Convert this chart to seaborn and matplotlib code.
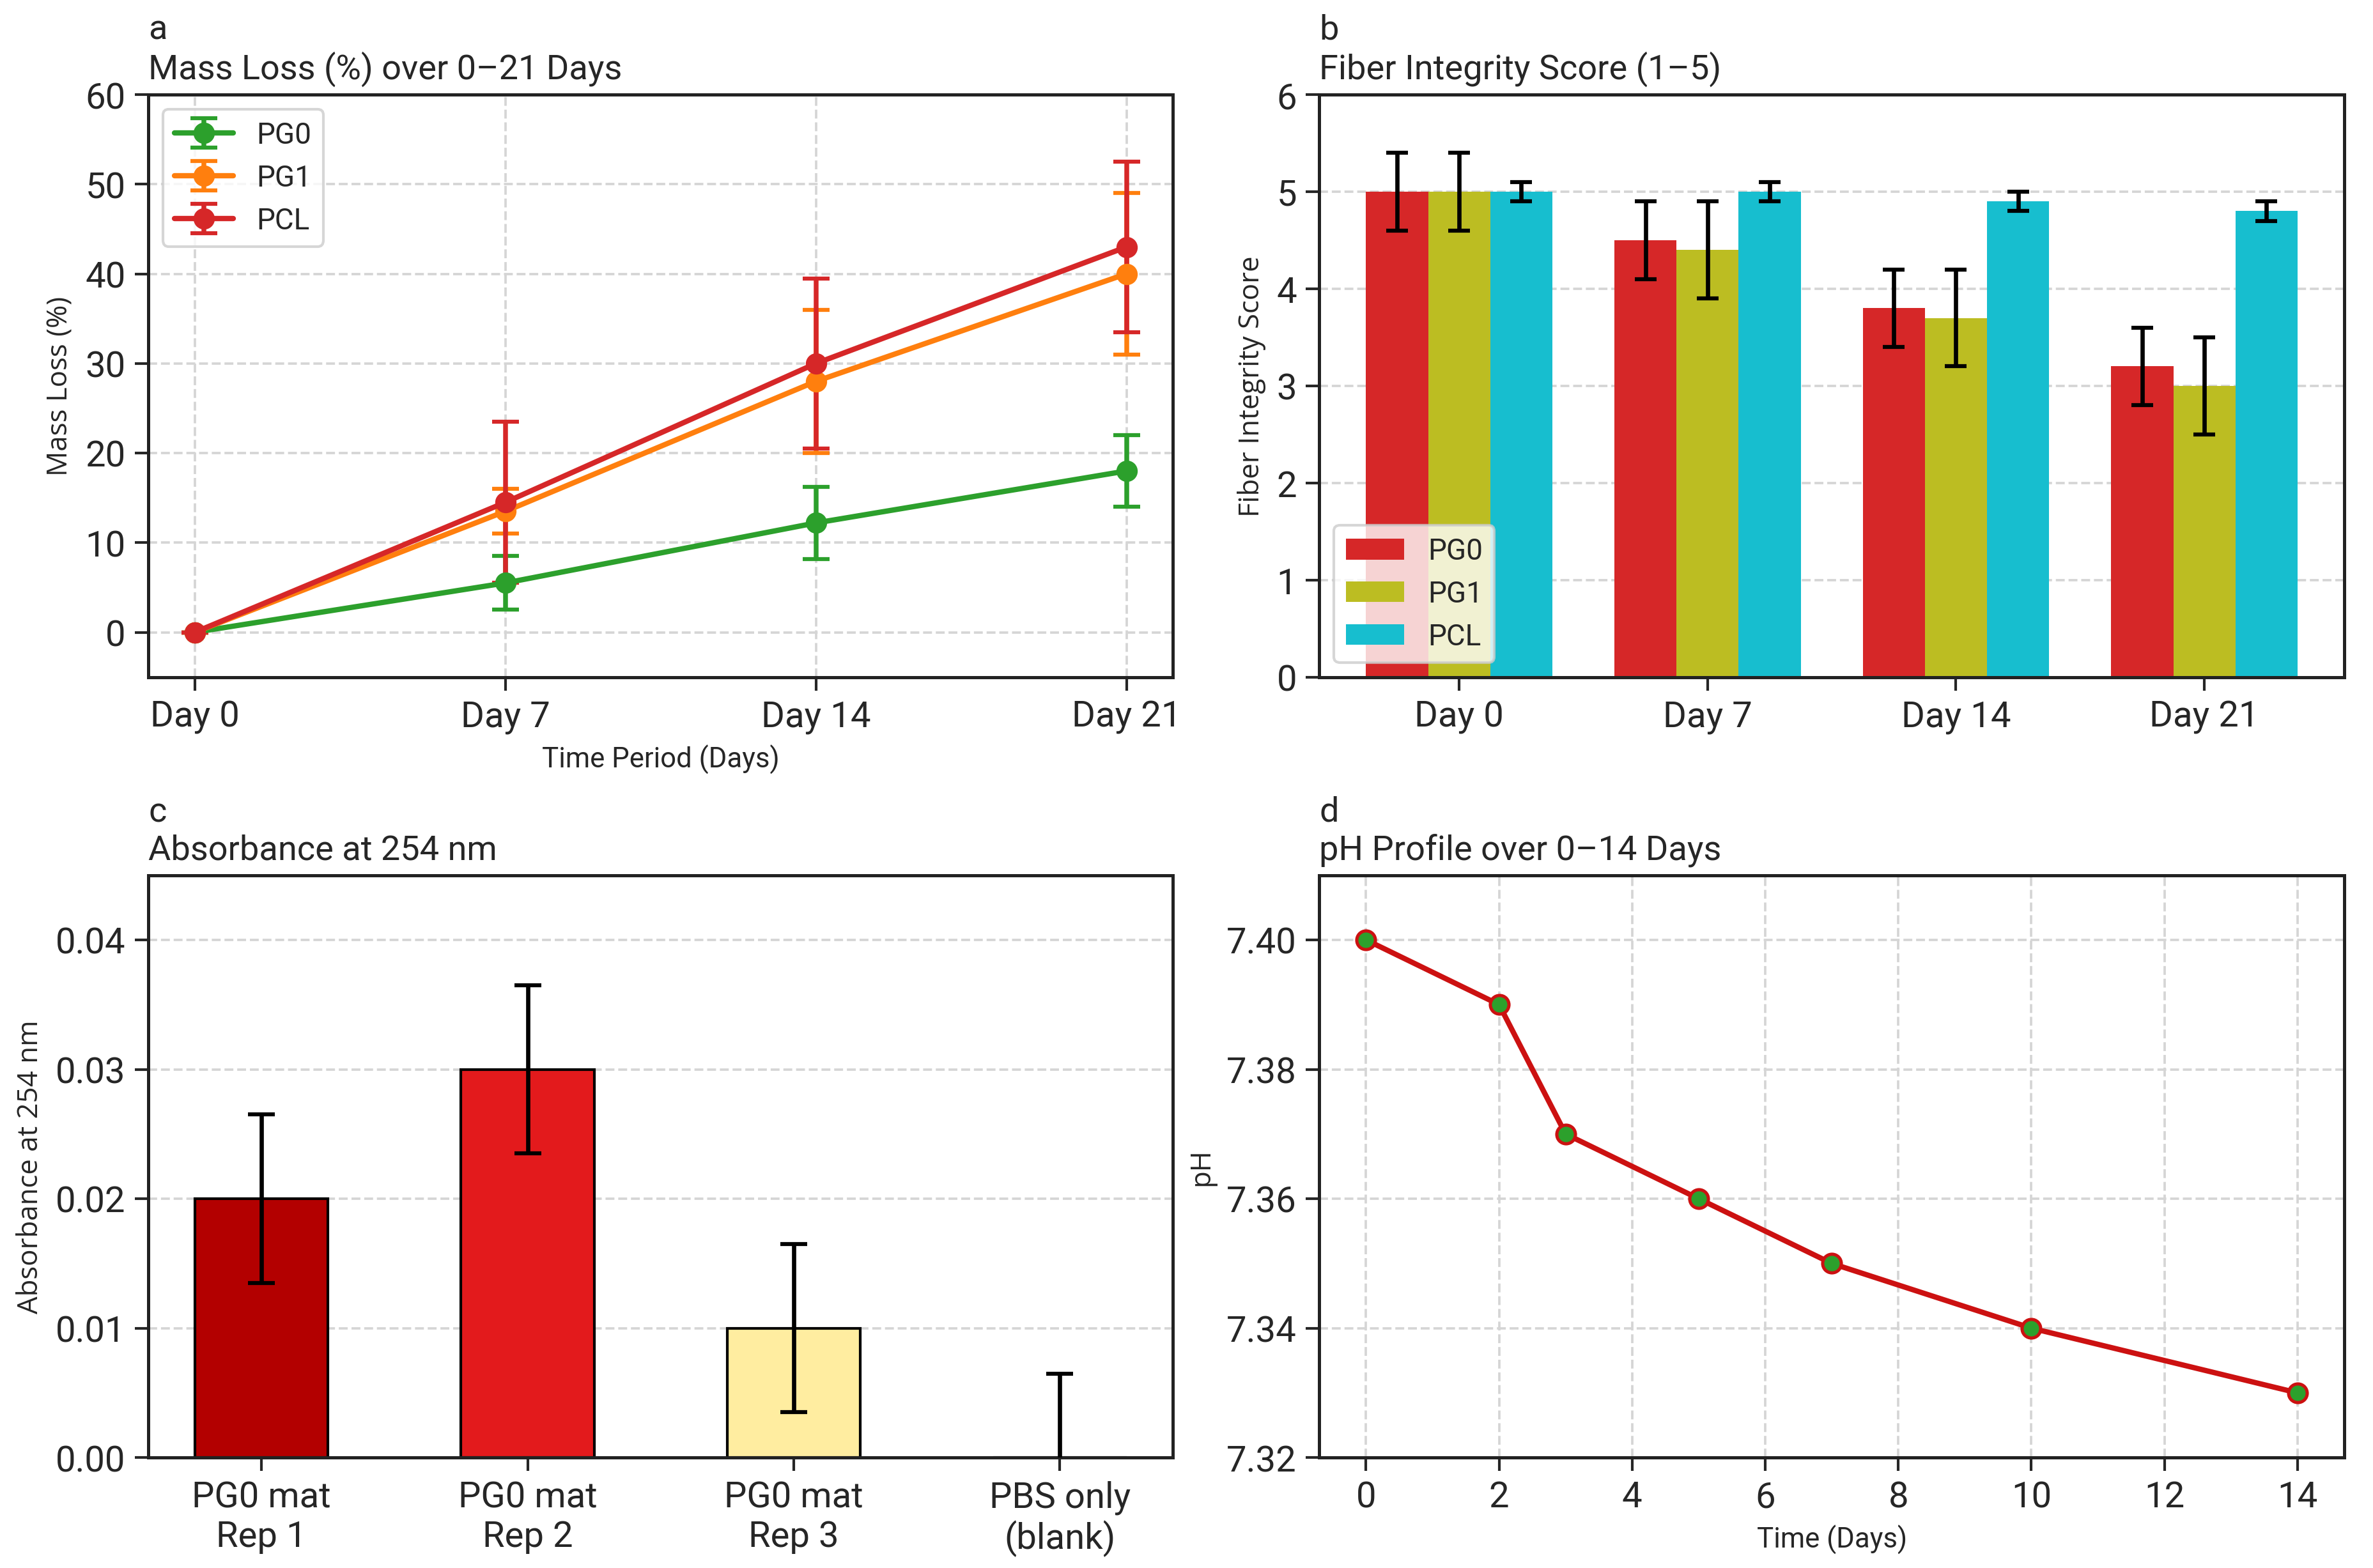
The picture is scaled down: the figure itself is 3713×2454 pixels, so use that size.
import numpy as np
import matplotlib
matplotlib.use("Agg")
import matplotlib.pyplot as plt
import seaborn as sns
import pandas as pd

# ---- data ----
days = ["Day 0", "Day 7", "Day 14", "Day 21"]
groups = ["PG0", "PG1", "PCL"]

mass_pg0 = [0, 5.5, 12.2, 18.0]
mass_pg0_err = [0, 3.0, 4.0, 4.0]
mass_pg1 = [0, 13.5, 28.0, 40.0]
mass_pg1_err = [0, 2.5, 8.0, 9.0]
mass_pcl = [0, 14.5, 30.0, 43.0]
mass_pcl_err = [0, 9.0, 9.5, 9.5]

fiber_pg0 = [5.0, 4.5, 3.8, 3.2]
fiber_pg0_err = [0.4, 0.4, 0.4, 0.4]
fiber_pg1 = [5.0, 4.4, 3.7, 3.0]
fiber_pg1_err = [0.4, 0.5, 0.5, 0.5]
fiber_pcl = [5.0, 5.0, 4.9, 4.8]
fiber_pcl_err = [0.1, 0.1, 0.1, 0.1]

samples = ["PG0 mat\nRep 1", "PG0 mat\nRep 2", "PG0 mat\nRep 3", "PBS only\n(blank)"]
absorb = [0.02, 0.03, 0.01, 0.0]
absorb_err = [0.0065, 0.0065, 0.0065, 0.0065]

ph_days = [0, 2, 3, 5, 7, 10, 14]
ph_vals = [7.40, 7.39, 7.37, 7.36, 7.35, 7.34, 7.33]

# ---- style ----
sns.set_style("ticks")
plt.rcParams['font.family'] = ['Roboto', 'DejaVu Sans']
plt.rcParams['axes.linewidth'] = 1.2

line_colors = ["#2ca02c", "#ff7f0e", "#d62728"]
bar_colors = ["#d62728", "#bcbd22", "#17becf"]
abs_colors = ["#b30000", "#e31a1c", "#ffeda0", "#ffffcc"]
grid_kw = dict(color="#d5d5d5", linestyle="--", linewidth=0.9)

fig = plt.figure(figsize=(12.377, 8.183), dpi=300)
axw, axh = 0.4318, 0.3713
ax_a = fig.add_axes([0.0625, 0.568, axw, axh])
ax_b = fig.add_axes([0.556, 0.568, axw, axh])
ax_c = fig.add_axes([0.0625, 0.0704, axw, axh])
ax_d = fig.add_axes([0.556, 0.0704, axw, axh])

title_fs = 13
tick_fs = 13.5
label_fs = 10.5

# ---- a: mass loss ----
x = np.arange(len(days))
for vals, errs, name, col in zip([mass_pg0, mass_pg1, mass_pcl],
                                 [mass_pg0_err, mass_pg1_err, mass_pcl_err],
                                 groups, line_colors):
    ax_a.errorbar(x, vals, yerr=errs, color=col, marker='o', markersize=7,
                  linewidth=2, capsize=5, elinewidth=1.8, capthick=1.5, label=name)
ax_a.set_xticks(x)
ax_a.set_xticklabels(days)
ax_a.set_ylim(-5, 60)
ax_a.set_xlabel("Time Period (Days)", fontsize=label_fs)
ax_a.set_ylabel("Mass Loss (%)", fontsize=label_fs, family=['Open Sans', 'DejaVu Sans'])
ax_a.set_title("a\nMass Loss (%) over 0–21 Days", loc='left', fontsize=title_fs, pad=6)
ax_a.grid(True, **grid_kw)
ax_a.legend(loc='upper left', fontsize=11, frameon=True)

# ---- b: fiber integrity ----
fiber_df = pd.DataFrame({
    "day": days * 3,
    "group": [g for g in groups for _ in days],
    "score": fiber_pg0 + fiber_pg1 + fiber_pcl,
})
sns.barplot(data=fiber_df, x="day", y="score", hue="group", palette=bar_colors,
            errorbar=None, width=0.75, saturation=1, linewidth=0, ax=ax_b, zorder=2)
bw = 0.25
for i, (errs, vals) in enumerate(zip([fiber_pg0_err, fiber_pg1_err, fiber_pcl_err],
                                     [fiber_pg0, fiber_pg1, fiber_pcl])):
    ax_b.errorbar(x + (i - 1) * bw, vals, yerr=errs, fmt='none', ecolor='black',
                  elinewidth=1.6, capsize=4, capthick=1.5, zorder=3)
ax_b.set_xlim(-0.5625, 3.5625)
ax_b.set_ylim(0, 6)
ax_b.set_xlabel("")
ax_b.set_ylabel("Fiber Integrity Score", fontsize=label_fs, family=['Open Sans', 'DejaVu Sans'])
ax_b.set_title("b\nFiber Integrity Score (1–5)", loc='left', fontsize=title_fs, pad=6)
ax_b.grid(True, axis='y', **grid_kw)
ax_b.set_axisbelow(True)
ax_b.legend(loc='lower left', fontsize=11, frameon=True, title=None)

# ---- c: absorbance ----
abs_df = pd.DataFrame({"sample": samples, "absorbance": absorb})
sns.barplot(data=abs_df, x="sample", y="absorbance", hue="sample", palette=abs_colors,
            errorbar=None, width=0.5, saturation=1, edgecolor='black', linewidth=1,
            legend=False, ax=ax_c, zorder=2)
ax_c.errorbar(np.arange(len(samples)), absorb, yerr=absorb_err, fmt='none',
              ecolor='black', elinewidth=1.6, capsize=5, capthick=1.5, zorder=3)
ax_c.set_xlim(-0.425, 3.425)
ax_c.set_ylim(0, 0.045)
ax_c.set_yticks([0, 0.01, 0.02, 0.03, 0.04])
ax_c.set_xlabel("")
ax_c.set_ylabel("Absorbance at 254 nm", fontsize=label_fs, family=['Open Sans', 'DejaVu Sans'])
ax_c.set_title("c\nAbsorbance at 254 nm", loc='left', fontsize=title_fs, pad=6)
ax_c.grid(True, axis='y', **grid_kw)
ax_c.set_axisbelow(True)

# ---- d: pH ----
sns.lineplot(x=ph_days, y=ph_vals, color="#cc1111", linewidth=2, marker='o',
             markersize=7, markerfacecolor="#2ca02c", markeredgecolor="#cc1111",
             markeredgewidth=1.2, ax=ax_d)
ax_d.set_xlim(-0.7, 14.7)
ax_d.set_ylim(7.32, 7.41)
ax_d.set_xticks(range(0, 15, 2))
ax_d.set_yticks([7.32, 7.34, 7.36, 7.38, 7.40])
ax_d.set_xlabel("Time (Days)", fontsize=label_fs)
ax_d.set_ylabel("pH", fontsize=label_fs, family=['Open Sans', 'DejaVu Sans'])
ax_d.set_title("d\npH Profile over 0–14 Days", loc='left', fontsize=title_fs, pad=6)
ax_d.grid(True, **grid_kw)

for ax in [ax_a, ax_b, ax_c, ax_d]:
    ax.tick_params(labelsize=tick_fs, length=5, width=1)
    for s in ax.spines.values():
        s.set_visible(True)
        s.set_color("#222222")

fig.savefig("out.png", dpi=300)
